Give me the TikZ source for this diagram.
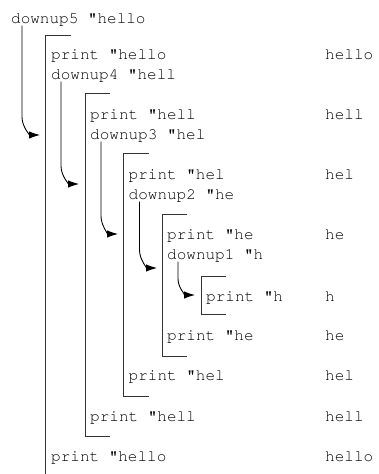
\documentclass[tikz,border=0pt]{standalone}
\usepackage[T1]{fontenc}
\usepackage{courier}
\usepackage{tikz}
\usetikzlibrary{positioning}
\usetikzlibrary{calc}
\usetikzlibrary{arrows.meta}

\begin{document}
\begin{tikzpicture}[x=1pt, y=-1pt,
  code/.style={font=\ttfamily\fontsize{16}{19}\selectfont, anchor=base west, inner sep=0pt},
  frame/.style={draw=black!80, line width=1pt},
  call/.style={draw=black, line width=0.9pt, -{Latex[length=11pt,width=7.5pt]}}]
\useasboundingbox (0,0) rectangle (378,474);

% the calls going down
\node[code] (d5) at (11,23) {downup5 "hello};
\node[code] (pr5) at (51,59) {print "hello};
\node[code] (d4) at (51,79) {downup4 "hell};
\node[code] (pr4) at (90,119) {print "hell};
\node[code] (d3) at (90,139) {downup3 "hel};
\node[code] (pr3) at (128.5,179) {print "hel};
\node[code] (d2) at (128.5,199) {downup2 "he};
\node[code] (pr2) at (167,239) {print "he};
\node[code] (d1) at (167,259) {downup1 "h};
\node[code] (pr1) at (206,301) {print "h};

% and coming back up
\node[code] (pb2) at (167,340) {print "he};
\node[code] (pb3) at (128.5,380) {print "hel};
\node[code] (pb4) at (90,421) {print "hell};
\node[code] (pb5) at (51,461) {print "hello};

% what gets printed
\node[code] (opr5) at (325,59) {hello};
\node[code] (opr4) at (325,119) {hell};
\node[code] (opr3) at (325,179) {hel};
\node[code] (opr2) at (325,239) {he};
\node[code] (opr1) at (325,301) {h};
\node[code] (opb2) at (325,340) {he};
\node[code] (opb3) at (325,380) {hel};
\node[code] (opb4) at (325,421) {hell};
\node[code] (opb5) at (325,461) {hello};

% one frame per call
\draw[frame] (70.5,35) -| (45.5,474);
\draw[frame] (110,93) -| (85,436) -- (110,436);
\draw[frame] (148.5,153) -| (123.5,396) -- (148.5,396);
\draw[frame] (187,214) -| (162,356) -- (187,356);
\draw[frame] (226,276) -| (201,314) -- (226,314);

% arrows into the frames
\coordinate (t5) at (40,135);
\coordinate (t4) at (79,184);
\coordinate (t3) at (118,234);
\coordinate (t2) at (157,268);
\coordinate (t1) at (195,295);
\draw[call] ([xshift=11pt]d5.south west) -- ($(d5.south west |- t5)+(11,-18)$) to[out=-90,in=180] (t5);
\draw[call] ([xshift=10pt]d4.south west) -- ($(d4.south west |- t4)+(10,-18)$) to[out=-90,in=180] (t4);
\draw[call] ([xshift=11pt]d3.south west) -- ($(d3.south west |- t3)+(11,-18)$) to[out=-90,in=180] (t3);
\draw[call] ([xshift=11pt]d2.south west) -- ($(d2.south west |- t2)+(11,-18)$) to[out=-90,in=180] (t2);
\draw[call] ([xshift=11pt]d1.south west) -- ($(d1.south west |- t1)+(11,-16)$) to[out=-90,in=180] (t1);
\end{tikzpicture}
\end{document}
